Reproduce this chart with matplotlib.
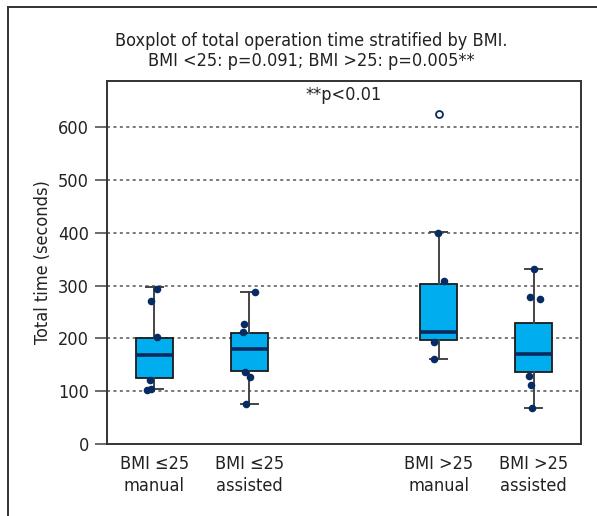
import matplotlib
matplotlib.use("Agg")
import matplotlib.pyplot as plt
from matplotlib.lines import Line2D

plt.rcParams['font.family'] = ['DejaVu Sans']
plt.rcParams['font.stretch'] = 'condensed'

categories = ["BMI \u226425\nmanual", "BMI \u226425\nassisted", "BMI >25\nmanual", "BMI >25\nassisted"]
positions = [1, 2, 4, 5]

# box statistics
q1 = [126, 138, 198, 136]
med = [168, 180, 213, 170]
q3 = [200, 211, 304, 230]
whislo = [105, 76, 162, 68]
whishi = [297, 288, 401, 332]
outliers = [[], [], [626], []]

# individual observations
points = [
    [293, 271, 202, 121, 103, 105],
    [288, 227, 213, 137, 127, 76],
    [400, 308, 193, 162],
    [332, 278, 274, 128, 111, 68],
]
jitter = [
    [0.03, -0.04, 0.03, -0.05, -0.08, -0.04],
    [0.06, -0.05, -0.07, -0.04, 0.01, -0.03],
    [-0.01, 0.06, -0.05, -0.05],
    [0.00, -0.04, 0.07, -0.05, -0.03, -0.02],
]
yticks = [0, 100, 200, 300, 400, 500, 600]

W, H = 597, 516
fig = plt.figure(figsize=(W / 100, H / 100), dpi=100)
ax = fig.add_axes([107 / W, 1 - 444 / H, (581 - 107) / W, (444 - 81) / H])

stats = []
for i in range(4):
    stats.append(dict(q1=q1[i], med=med[i], q3=q3[i], whislo=whislo[i],
                      whishi=whishi[i], fliers=outliers[i], label=categories[i]))

ax.bxp(stats, positions=positions, widths=0.39, patch_artist=True, showfliers=True,
       boxprops=dict(facecolor='#00aeef', edgecolor='#1a1a1a', linewidth=1.3),
       medianprops=dict(color='#0b2a5b', linewidth=2.6),
       whiskerprops=dict(color='#444444', linewidth=1.4),
       capprops=dict(color='#444444', linewidth=1.4),
       capwidths=0.18,
       flierprops=dict(marker='o', markerfacecolor='white', markeredgecolor='#0b2a5b',
                       markersize=5, markeredgewidth=1.3, linestyle='none'),
       zorder=3)

for i in range(4):
    xs = [positions[i] + j for j in jitter[i]]
    ax.scatter(xs, points[i], s=30, color='#062c63', zorder=5, linewidths=0)

ax.set_xlim(0.5, 5.5)
ax.set_ylim(0, 688)
ax.set_yticks(yticks)
ax.set_xticks(positions)
ax.set_xticklabels(categories, fontsize=13, color='#222222', linespacing=1.3)
ax.tick_params(axis='x', length=0, pad=8)
ax.tick_params(axis='y', length=9, width=1.1, color='#444444', labelsize=13,
               labelcolor='#222222', pad=4)
for y in yticks[1:]:
    ax.axhline(y, color='#555555', linestyle=(0, (2, 2.2)), linewidth=1.1, zorder=1)
for s in ax.spines.values():
    s.set_color('#333333')
    s.set_linewidth(1.4)

ax.set_ylabel('Total time (seconds)', fontsize=13, color='#222222', labelpad=4)
ax.text(0.5, 0.985, '**p<0.01', transform=ax.transAxes, ha='center', va='top',
        fontsize=13, color='#222222')

fig.text(311 / W, 1 - 51 / H,
         'Boxplot of total operation time stratified by BMI.\nBMI <25: p=0.091; BMI >25: p=0.005**',
         ha='center', va='center', fontsize=13, color='#222222', linespacing=1.15)

# outer frame (top and left edges)
fig.add_artist(Line2D([8 / W, 8 / W], [0, 1 - 7 / H], transform=fig.transFigure,
                      color='#333333', linewidth=1.4))
fig.add_artist(Line2D([8 / W, 1], [1 - 7 / H, 1 - 7 / H], transform=fig.transFigure,
                      color='#333333', linewidth=1.4))

fig.savefig('out.png', dpi=100)
